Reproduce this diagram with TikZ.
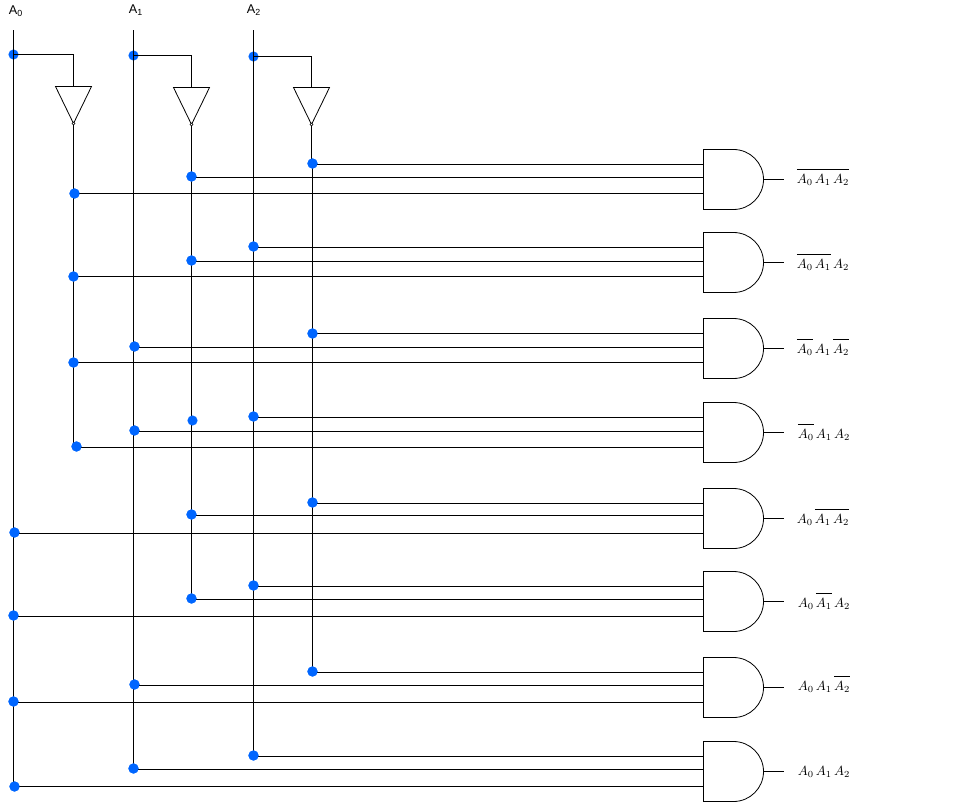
\documentclass[tikz,border=0pt]{standalone}
\usepackage{fontspec}
\setsansfont{Liberation Sans}
\newcommand{\ovl}[1]{\overline{\rule{0pt}{9.3pt}#1}}
\tikzset{
  x=0.75pt,y=-0.75pt,
  wire/.style={draw=black,line width=0.75pt},
  thinline/.style={draw=black,line width=0.6pt},
  joint/.style={circle,fill=dotblue,draw=none,inner sep=0pt,minimum size=7.6pt},
  gatebody/.style={draw=black,line width=0.6pt,fill=white},
  invbody/.style={draw=black,line width=0.6pt,fill=white,line join=miter},
  bubble/.style={circle,draw=black,line width=0.4pt,fill=white,inner sep=0pt,minimum size=2.2pt},
  inlabel/.style={font=\sffamily\fontsize{9.5}{11}\selectfont,inner sep=0pt},
  outlabel/.style={anchor=base west,inner sep=0pt,font=\fontsize{10.2}{12}\selectfont},
}
\definecolor{dotblue}{HTML}{0066FF}
\begin{document}
\begin{tikzpicture}
\useasboundingbox (-0.5,-0.5) rectangle (963.5,801.5);

% input labels and rail ends
\node[inlabel] (lA0) at (15.5,10.5) {A\textsubscript{0}};
\node[inlabel] (lA1) at (135.5,9.5) {A\textsubscript{1}};
\node[inlabel] (lA2) at (253.5,9.5) {A\textsubscript{2}};
\coordinate (t0) at (13,30);  \coordinate (b0) at (13,786);
\coordinate (t1) at (133,30); \coordinate (b1) at (133,768);
\coordinate (t2) at (253,30); \coordinate (b2) at (253,755);

% gates: top-left corner gives the body; inputs a,b,c and output
\foreach \g/\top/\ia/\ib/\ic in {1/149/164/177/193,2/232/247/261/276,3/318/333/347/362,4/402/416.5/431/446.5,5/488/502.5/515/532.5,6/571/585.5/598.5/615.5,7/657/672/684.5/701.5,8/741/755.5/768.5/786}{
  \draw[gatebody] (703,\top) -- ++(30,0) arc[start angle=90,end angle=-90,radius=30*0.75pt] -- ++(-30,0) -- cycle;
  \coordinate (g\g a) at (703,\ia);
  \coordinate (g\g b) at (703,\ib);
  \coordinate (g\g c) at (703,\ic);
  \coordinate (o\g) at (763,\top+30);
  \coordinate (e\g) at (783,\top+30);
  \draw[thinline] (o\g) -- (e\g);
}

% inverters
\foreach \n/\x/\ytop/\tapy/\tapx/\endy in {0/73/86/54/13/446,1/191/87/55/133/598,2/311/87/56/253/671}{
  \coordinate (il\n) at (\x-18,\ytop);
  \coordinate (ir\n) at (\x+18,\ytop);
  \coordinate (in\n) at (\x,\ytop);
  \coordinate (tip\n) at (\x,\ytop+37);
  \coordinate (corner\n) at (\x,\tapy);
  \node[joint] (tap\n) at (\tapx,\tapy) {};
  \coordinate (nb\n) at (\x,\endy);
}
\coordinate (jog2a) at (311,163);
\coordinate (jog2b) at (312,163);
\coordinate (end2) at (312,671);
% rails
\draw[wire] (t0) -- (b0);
\draw[wire] (t1) -- (b1);
\draw[wire] (t2) -- (b2);
\draw[wire] (tip0) -- (nb0);
\draw[wire] (tip1) -- (nb1);
\draw[wire] (tip2) -- (jog2a) -- (jog2b) -- (end2);
\foreach \n in {0,1,2}{
  \draw[wire] (tap\n.center) -- (corner\n) -- (in\n);
  \draw[invbody] (il\n) -- (ir\n) -- (tip\n) -- cycle;
  \node[bubble] (bub\n) at (tip\n) {};
}

% joints
\foreach \g/\xa/\ya/\xb/\yb/\xc/\yc in {
 1/312/163/191/176/74/193,
 2/253/246/191/260/73/276,
 3/312/333/134/346/73/362,
 4/253/416/134/430/76/446,
 5/312/502/191/514/14/532,
 6/253/585/191/598/13/615,
 7/312/671/134/684/13/701,
 8/253/755/133/768/14/786}{
  \node[joint] (d\g a) at (\xa,\ya) {};
  \node[joint] (d\g b) at (\xb,\yb) {};
  \node[joint] (d\g c) at (\xc,\yc) {};
  \draw[wire] (g\g a) -- (g\g a -| d\g a);
  \draw[wire] (g\g b) -- (g\g b -| d\g b);
  \draw[wire] (g\g c) -- (g\g c -| d\g c);
  \node[joint] at (d\g a) {};
  \node[joint] at (d\g b) {};
  \node[joint] at (d\g c) {};
}
\node[joint] (extra) at (192,420) {};

% output labels
\node[outlabel] (l1) at (796,183) {$\ovl{A_0\,A_1\,A_2}$};
\node[outlabel] (l2) at (796,268) {$\ovl{A_0\,A_1}\,A_2$};
\node[outlabel] (l3) at (796,353) {$\ovl{A_0}\,A_1\,\ovl{A_2}$};
\node[outlabel] (l4) at (797,438) {$\ovl{A_0}\,A_1\,A_2$};
\node[outlabel] (l5) at (796,523) {$A_0\,\ovl{A_1\,A_2}$};
\node[outlabel] (l6) at (797,607) {$A_0\,\ovl{A_1}\,A_2$};
\node[outlabel] (l7) at (797,690) {$A_0\,A_1\,\ovl{A_2}$};
\node[outlabel] (l8) at (797,775) {$A_0\,A_1\,A_2$};
\end{tikzpicture}
\end{document}
